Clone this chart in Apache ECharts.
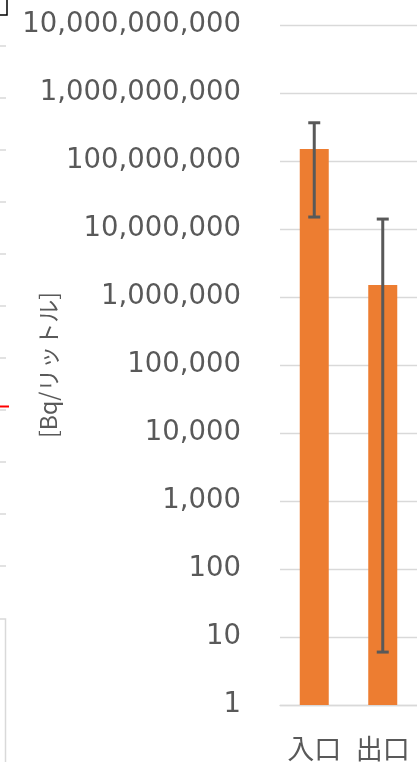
<!DOCTYPE html>
<html>
<head>
<meta charset="utf-8">
<script src="https://cdn.jsdelivr.net/npm/echarts@6/dist/echarts.min.js"></script>
<style>
html,body{margin:0;padding:0;background:#fff;}
#c{width:417px;height:766px;}
</style>
</head>
<body>
<div id="c"></div>
<script>
var categories = ['入口', '出口'];
var values = [1.5e8, 1.5e6];
var errLow = [1.5e7, 6];
var errHigh = [3.65e8, 1.4e7];
var yMin = 1;
var yMax = 1e10;
var axisName = '[Bq/リットル]';

var chart = echarts.init(document.getElementById('c'));
var errData = categories.map(function (c, i) { return [i, errLow[i], errHigh[i]]; });

var deco = [];
// cropped fragments of a neighbouring chart on the left edge
deco.push({type:'polyline', silent:true, shape:{points:[[0,15],[7,15],[7,0]]}, style:{stroke:'#000', lineWidth:1.5, fill:null}});
for (var k = 0; k < 11; k++) {
  var yy = 46 + 52 * k;
  deco.push({type:'line', silent:true, shape:{x1:0,y1:yy,x2:6,y2:yy}, style:{stroke:'#d9d9d9', lineWidth:1.5}});
}
deco.push({type:'line', silent:true, shape:{x1:0,y1:406.5,x2:9,y2:406.5}, style:{stroke:'#ff0000', lineWidth:2}});
deco.push({type:'polyline', silent:true, shape:{points:[[0,619],[5.5,619],[5.5,762]]}, style:{stroke:'#d9d9d9', lineWidth:1.5, fill:null}});

chart.setOption({
  animation: false,
  backgroundColor: '#fff',
  graphic: deco,
  grid: {left: 280, right: -3, top: 25, bottom: 61, containLabel: false},
  xAxis: {
    type: 'category',
    data: categories,
    axisLine: {show: true, lineStyle: {color: '#d9d9d9', width: 1.3}},
    axisTick: {show: false},
    axisLabel: {color: '#595959', fontSize: 27, fontFamily: 'Noto Sans CJK JP', margin: 30, interval: 0, hideOverlap: false}
  },
  yAxis: {
    type: 'log',
    logBase: 10,
    min: yMin,
    max: yMax,
    interval: 1,
    splitNumber: 10,
    name: axisName,
    nameLocation: 'middle',
    nameGap: 220,
    nameMoveOverlap: false,
    nameTextStyle: {color: '#595959', fontSize: 23, fontFamily: 'Noto Sans CJK JP'},
    axisLine: {show: false},
    axisTick: {show: false},
    splitLine: {show: true, lineStyle: {color: '#d9d9d9', width: 1.3}},
    axisLabel: {
      color: '#595959', fontSize: 27.5, fontFamily: 'DejaVu Sans', margin: 39,
      formatter: function (v) { return Math.round(v).toLocaleString('en-US'); }
    }
  },
  series: [
    {
      type: 'bar',
      data: values,
      barWidth: 29,
      itemStyle: {color: '#ED7D31'}
    },
    {
      type: 'custom',
      data: errData,
      z: 10,
      renderItem: function (params, api) {
        var x = api.value(0);
        var lo = api.coord([x, api.value(1)]);
        var hi = api.coord([x, api.value(2)]);
        var hw = 6;
        var st = {stroke: '#595959', lineWidth: 3};
        return {
          type: 'group',
          children: [
            {type: 'line', shape: {x1: hi[0], y1: hi[1], x2: lo[0], y2: lo[1]}, style: st},
            {type: 'line', shape: {x1: hi[0] - hw, y1: hi[1], x2: hi[0] + hw, y2: hi[1]}, style: st},
            {type: 'line', shape: {x1: lo[0] - hw, y1: lo[1], x2: lo[0] + hw, y2: lo[1]}, style: st}
          ]
        };
      }
    }
  ]
});
</script>
</body>
</html>
